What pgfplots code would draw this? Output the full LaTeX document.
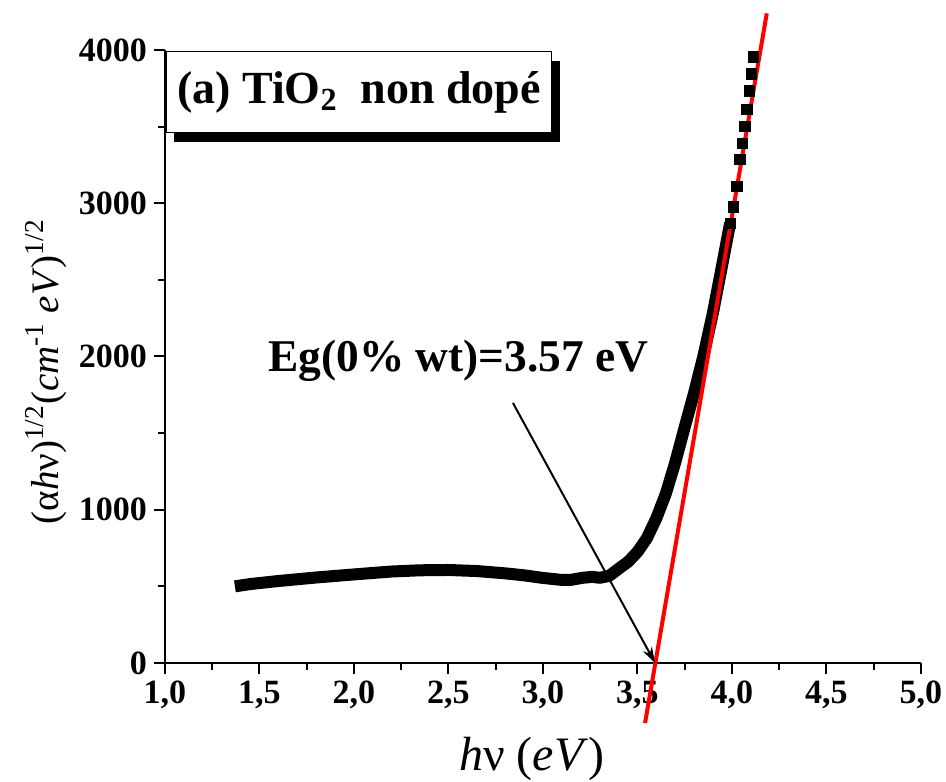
\documentclass[border=0pt]{standalone}
\usepackage{fontspec}
\setmainfont{Liberation Serif}
\usepackage{pgfplots}
\pgfplotsset{compat=1.18}
\usetikzlibrary{arrows.meta}

\begin{document}
\begin{tikzpicture}
\begin{axis}[
    scale only axis,
    width=378bp,
    height=306.5bp,
    xmin=1, xmax=5,
    ymin=0, ymax=4000,
    axis lines*=left,
    axis line style={line width=1bp},
    clip=false,
    xtick={1,1.5,...,5},
    ytick={0,1000,...,4000},
    minor x tick num=1,
    minor y tick num=1,
    tick align=outside,
    major tick length=5.5bp,
    minor tick length=3.5bp,
    every tick/.style={black, line width=1bp},
    tick label style={font=\fontsize{17bp}{20bp}\selectfont\bfseries},
    xticklabel style={/pgf/number format/.cd, use comma, fixed, fixed zerofill, precision=1, assume math mode=true},
    yticklabel style={/pgf/number format/.cd, fixed, 1000 sep={}, assume math mode=true},
    xlabel={\textit{h}ν (\textit{eV})},
    ylabel={(α\textit{h}ν)\textsuperscript{1/2}(\textit{cm}\textsuperscript{-1} \textit{eV})\textsuperscript{1/2}},
    xlabel style={font=\fontsize{24bp}{28bp}\selectfont, at={(axis description cs:0.485,-0.157)}, anchor=center},
    ylabel style={font=\fontsize{19.5bp}{23bp}\selectfont, at={(axis description cs:-0.157,0.475)}, anchor=center},
]

% measured curve
\addplot[black, line width=6bp, line join=round] coordinates {
    (1.37,500) (1.45,515) (1.6,535) (1.8,558) (2.0,578) (2.2,597)
    (2.35,605) (2.5,607) (2.65,600) (2.8,585) (2.9,572) (3.0,555)
    (3.1,542) (3.15,543) (3.21,556) (3.26,562) (3.3,556) (3.35,568)
    (3.40,615) (3.45,660) (3.50,725) (3.55,815) (3.60,945) (3.65,1105)
    (3.70,1310) (3.75,1540) (3.80,1765) (3.85,2010) (3.90,2290)
    (3.95,2610) (3.99,2869)
};
\addplot[only marks, mark=square*, mark size=2.6bp, black] coordinates {
    (3.99,2869) (4.007,2977) (4.025,3108) (4.042,3287) (4.055,3391)
    (4.069,3500) (4.079,3613) (4.093,3733) (4.104,3843) (4.112,3956)
};

% linear fit
\addplot[red, line width=2bp] coordinates {(3.54,-392) (4.184,4239)};

% title box with shadow
\fill[black] (axis cs:1.0476,3928) rectangle (axis cs:3.0899,3400);
\node[draw, line width=0.6bp, fill=white, anchor=north west, inner sep=0pt,
      minimum width=192.5bp, minimum height=40.5bp,
      font=\fontsize{23bp}{27bp}\selectfont\bfseries]
      at (axis cs:1.0053,3993.5) {(a) TiO\textsubscript{2}\ \ non dopé};

% annotation
\node[anchor=base, font=\fontsize{22.7bp}{26bp}\selectfont\bfseries]
      at (axis cs:2.553,1899) {Eg(0\% wt)=3.57 eV};
\draw[-{Stealth[length=8bp,width=5bp]}, line width=1bp]
      (axis cs:2.841,1697) -- (axis cs:3.593,0);
\end{axis}
\pgfresetboundingbox
\useasboundingbox (current axis.south west) ++(-82.5bp,-59.5bp) rectangle ++(473bp,391bp);
\end{tikzpicture}
\end{document}
